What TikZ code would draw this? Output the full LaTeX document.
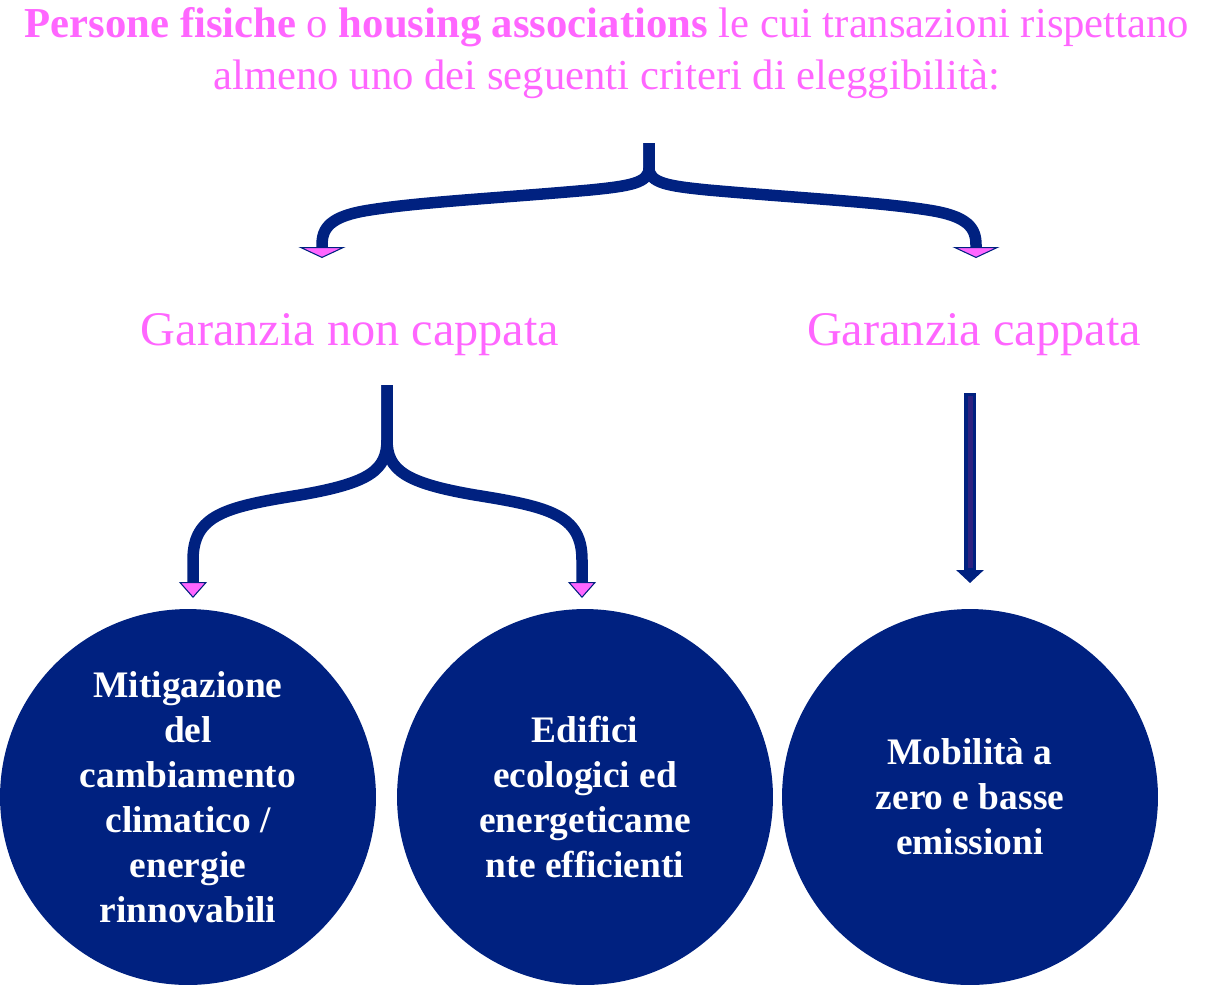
\documentclass[tikz,border=0pt]{standalone}
\usepackage{fontspec}
\setmainfont{Liberation Serif}
\usetikzlibrary{arrows.meta,positioning,calc}
\definecolor{navyblue}{RGB}{0,33,128}
\definecolor{pinktext}{RGB}{255,102,255}
\definecolor{shaftfill}{RGB}{46,34,128}

\begin{document}
\begin{tikzpicture}[
    x=0.02cm, y=-0.02cm,
    gtext/.style={text=pinktext, font=\fontsize{27.5}{31}\selectfont, inner sep=0pt},
    disc/.style={circle, fill=navyblue, minimum size=7.52cm, inner sep=0pt, align=center, text=white, font=\bfseries\fontsize{21.3}{25.6}\selectfont},
    brace/.style={draw=navyblue, line width=0.23cm, line join=round},
    bigtip/.style={-{Triangle[width=0.94cm, length=0.22cm, fill=pinktext, line width=0.6pt]}},
    smalltip/.style={-{Triangle[width=0.56cm, length=0.32cm, fill=pinktext, line width=0.6pt]}}
]
\useasboundingbox (0,0) rectangle (1213,985);

\node[text=pinktext, align=center, font=\fontsize{24.3}{29.5}\selectfont] (title) at (607,53)
  {\textbf{Persone fisiche} o \textbf{housing associations} le cui transazioni rispettano\\
   almeno uno dei seguenti criteri di eleggibilità:};

\node[gtext, anchor=base] (gnc) at (350,345) {Garanzia non cappata};
\node[gtext, anchor=base] (gc) at (974,345) {Garanzia cappata};

\node[disc] (c1) at (188,797) {Mitigazione\\del\\cambiamento\\climatico /\\energie\\rinnovabili};
\node[disc] (c2) at (585,797) {Edifici\\ecologici ed\\energeticame\\nte efficienti};
\node[disc] (c3) at (970,797) {Mobilità a\\zero e basse\\emissioni};

% first fork
\coordinate (fork1) at (649,143);
\coordinate (gnctip) at (322,258);
\coordinate (gctip) at (976,258);
\draw[brace, bigtip] (fork1) -- (649,168) .. controls (649,183) and (630,186) .. (590,190)
  .. controls (500,198) and (420,202) .. (370,210) .. controls (330,216) and (322,228) .. (322,245) -- (gnctip);
\draw[brace, bigtip] (fork1) -- (649,168) .. controls (649,183) and (668,186) .. (708,190)
  .. controls (798,198) and (878,202) .. (928,210) .. controls (968,216) and (976,228) .. (976,245) -- (gctip);

% second fork
\coordinate (fork2) at (387,385);
\coordinate (c1tip) at (193,598);
\coordinate (c2tip) at (582,598);
\draw[brace, smalltip] (fork2) -- (387,440) .. controls (387,470) and (370,483) .. (300,495)
  .. controls (225,507) and (193,515) .. (193,560) -- (c1tip);
\draw[brace, smalltip] (fork2) -- (387,440) .. controls (387,470) and (405,483) .. (475,495)
  .. controls (550,507) and (582,515) .. (582,560) -- (c2tip);

% straight arrow
\coordinate (gcout) at (970,393);
\coordinate (c3tip) at (970,583);
\draw[navyblue, line width=0.24cm, -{Triangle[width=0.54cm, length=0.26cm]}] (gcout) -- (c3tip);
\draw[shaftfill, line width=0.1cm] (970,396) -- (970,568);

\end{tikzpicture}
\end{document}
